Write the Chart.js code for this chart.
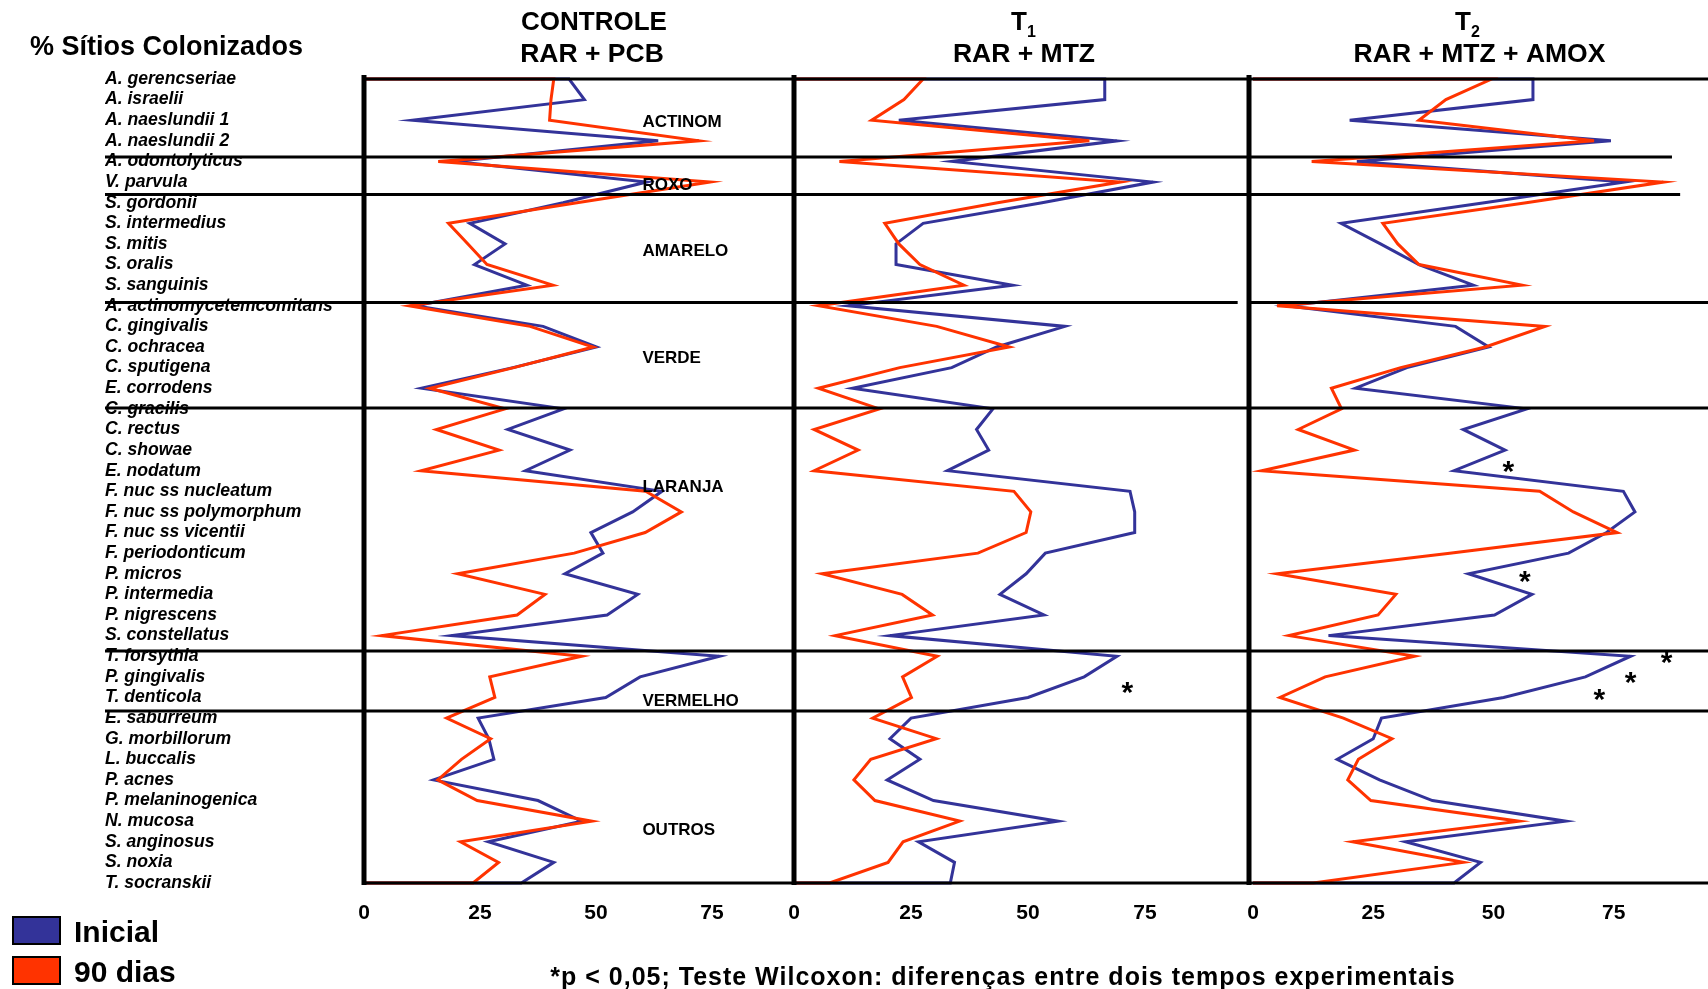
<!DOCTYPE html>
<html lang="pt">
<head>
<meta charset="utf-8">
<title>% Sítios Colonizados</title>
<script src="https://cdn.jsdelivr.net/npm/chart.js@4/dist/chart.umd.min.js"></script>
<style>
  html, body { margin: 0; padding: 0; background: #ffffff; }
  #wrap { position: relative; width: 1708px; height: 989px; overflow: hidden; }
  #wrap canvas { position: absolute; left: 0; top: 0; }
</style>
</head>
<body>
<div id="wrap">
  <canvas id="cControle" width="1708" height="989"></canvas>
  <canvas id="cT1" width="1708" height="989"></canvas>
  <canvas id="cT2" width="1708" height="989"></canvas>
</div>
<script>
// ---- data -----------------------------------------------------------------
const species = [
  'A. gerencseriae', 'A. israelii', 'A. naeslundii 1', 'A. naeslundii 2',
  'A. odontolyticus', 'V. parvula',
  'S. gordonii', 'S. intermedius', 'S. mitis', 'S. oralis', 'S. sanguinis',
  'A. actinomycetemcomitans', 'C. gingivalis', 'C. ochracea', 'C. sputigena', 'E. corrodens',
  'C. gracilis', 'C. rectus', 'C. showae', 'E. nodatum', 'F. nuc ss nucleatum',
  'F. nuc ss polymorphum', 'F. nuc ss vicentii', 'F. periodonticum', 'P. micros',
  'P. intermedia', 'P. nigrescens', 'S. constellatus',
  'T. forsythia', 'P. gingivalis', 'T. denticola',
  'E. saburreum', 'G. morbillorum', 'L. buccalis', 'P. acnes', 'P. melaninogenica',
  'N. mucosa', 'S. anginosus', 'S. noxia', 'T. socranskii'
];

// % of colonized sites per species, baseline ("Inicial") and after 90 days
const controleInicial = [44.2, 47.5, 10.4, 63.4, 19.5, 60.9, 42.9, 22.8, 30.4, 23.8,
  35.1, 11, 38.6, 50.1, 32.1, 12.4, 43, 31, 44.4, 34.8,
  64.2, 57.9, 48.9, 51.5, 43.3, 59, 52.4, 18.9, 76.6, 59.5,
  52.1, 24.6, 26.9, 28, 15, 37.5, 46.9, 26.8, 40.9, 33.9];
const controle90 = [40.9, 40.3, 40.0, 72.2, 16.0, 74.6, 45.9, 18.2, 22.4, 26.5,
  40.7, 9.8, 35.8, 49.4, 32.3, 14.2, 30.4, 15.6, 29.1, 12.3,
  60.7, 68.4, 60.6, 45.3, 20.2, 39, 33, 3.8, 46.9, 27.1,
  28.2, 17.8, 27.3, 21, 15.9, 24.4, 49.1, 20.8, 29, 23.5];

const t1Inicial = [66.4, 66.4, 22.4, 69, 33.8, 76.7, 53, 27.6, 21.8, 21.8,
  46.7, 11.6, 57.9, 43.3, 33.7, 12.5, 42.5, 39, 41.6, 32.8,
  71.8, 72.8, 72.8, 53.7, 49.6, 44, 53.4, 20.5, 69, 62,
  50, 25, 20.5, 26.9, 19.9, 29.8, 56.4, 26.6, 34.3, 33.4];
const t190 = [27.6, 23.5, 16.6, 63.1, 9.7, 69.7, 43.5, 19.4, 22.4, 26.9,
  36.3, 5.2, 30.5, 46, 22.6, 5.2, 18.2, 4.3, 13.7, 4.3,
  47, 50.6, 49.6, 39.3, 6.0, 23.1, 29.6, 8.8, 30.6, 23.2,
  25.1, 16.8, 30.4, 16.4, 12.8, 17.3, 35.4, 23.3, 20.1, 7.6];

const t2Inicial = [58.2, 58.2, 20.1, 74.4, 21.6, 77.3, 48.1, 18.3, 26.5, 34.5,
  45.8, 7, 42.1, 49, 32, 21.3, 56.9, 43.7, 52.4, 41.8,
  77, 79.4, 73.5, 65.6, 44.8, 58, 50.2, 15.7, 78.5, 69.1,
  52.1, 26.7, 25, 17.5, 26.3, 37.3, 65, 31.7, 47.3, 41.8];
const t290 = [49.6, 40.1, 34.5, 70.9, 12.2, 85.3, 56.8, 27.0, 30.1, 34.5,
  55.9, 5.0, 60.7, 48.3, 30.7, 16.3, 18.4, 9.4, 21.1, 1.8,
  59.6, 66.6, 75.7, 40.9, 5.0, 29.7, 26, 7.5, 33.6, 15.0,
  5.6, 18.8, 28.9, 21.9, 19.7, 24.5, 55.3, 20.7, 43.7, 12.5];

const xTicks = [0, 25, 50, 75];

// microbial complexes: names, label rows and the rules drawn between them
const complexes = ['ACTINOM', 'ROXO', 'AMARELO', 'VERDE', 'LARANJA', 'VERMELHO', 'OUTROS'];
const complexLabelRows = [2.02, 5.1, 8.3, 13.47, 19.73, 30.13, 36.38];
const complexBreaks = [3.78, 5.6, 10.84, 15.96, 27.75, 30.66];

// significant differences (Wilcoxon, p < 0.05): value / row where each mark sits
const starsT1 = [{ x: 71.2, y: 29.44 }];
const starsT2 = [{ x: 53.1, y: 18.72 }, { x: 56.5, y: 24.06 }, { x: 86, y: 27.97 },
                 { x: 78.5, y: 28.98 }, { x: 72, y: 29.78 }];

// ---- styling --------------------------------------------------------------
const FONT = "'Liberation Sans', Arial, Helvetica, sans-serif";
const BLUE = '#333399';
const RED = '#FF3300';
const INK = '#000000';
Chart.defaults.font.family = FONT;
Chart.defaults.color = INK;

// Each profile is drawn as the outline of its area, starting and ending on the zero line
function outline(values) {
  const pts = values.map((v, i) => ({ x: v, y: i }));
  return [{ x: 0, y: 0 }, ...pts, { x: 0, y: values.length - 1 }];
}

function setFont(ctx, size, italic) {
  ctx.font = (italic ? 'italic ' : '') + 'bold ' + size + 'px ' + FONT;
}

function drawText(ctx, str, x, y, size, align) {
  setFont(ctx, size, false);
  ctx.textAlign = align;
  ctx.textBaseline = 'alphabetic';
  ctx.fillStyle = INK;
  ctx.fillText(str, x, y);
}

// Panel frame: zero axis, top/bottom rules and complex separators
const framePlugin = {
  id: 'frame',
  afterDatasetsDraw(chart, args, opts) {
    const { ctx, chartArea: a, scales: { x, y } } = chart;
    const axisX = a.left + (opts.axisShift || 0);
    ctx.save();
    ctx.strokeStyle = INK;
    ctx.lineCap = 'butt';
    ctx.lineWidth = 3;
    const hline = (py, x0, x1) => {
      ctx.beginPath(); ctx.moveTo(x0, py); ctx.lineTo(x1, py); ctx.stroke();
    };
    hline(a.top, axisX, a.right);
    hline(a.bottom, axisX, a.right);
    complexBreaks.forEach((b, i) => {
      const x0 = opts.ruleStart != null ? opts.ruleStart : axisX;
      const ends = opts.ruleEnds || {};
      const x1 = ends[i] != null ? x.getPixelForValue(ends[i]) : a.right;
      hline(y.getPixelForValue(b), x0, x1);
    });
    ctx.lineWidth = 5;
    ctx.beginPath();
    ctx.moveTo(axisX, a.top - 4);
    ctx.lineTo(axisX, a.bottom + 2);
    ctx.stroke();
    ctx.restore();
  }
};

// Headings, complex names, significance marks, legend and footnote
const notesPlugin = {
  id: 'notes',
  afterDraw(chart, args, o) {
    const { ctx, scales: { x, y } } = chart;
    ctx.save();
    if (o.heading) {
      const h = o.heading;
      if (h.sub) {
        setFont(ctx, 26, false);
        const wMain = ctx.measureText(h.main).width;
        setFont(ctx, 16, false);
        const wSub = ctx.measureText(h.sub).width;
        const left = h.x1 - (wMain + wSub) / 2;
        drawText(ctx, h.main, left, 30, 26, 'left');
        drawText(ctx, h.sub, left + wMain, 37, 16, 'left');
      } else {
        drawText(ctx, h.main, h.x1, 30, 26, 'center');
      }
      drawText(ctx, h.line2, h.x2, 62, 26.5, 'center');
    }
    if (o.caption) {
      drawText(ctx, o.caption, 30, 55, 27, 'left');
    }
    if (o.complexX != null) {
      complexes.forEach((name, i) => {
        drawText(ctx, name, x.getPixelForValue(o.complexX), y.getPixelForValue(complexLabelRows[i]) + 6, 17, 'left');
      });
    }
    (o.stars || []).forEach(s => {
      drawText(ctx, '*', x.getPixelForValue(s.x), y.getPixelForValue(s.y) + 16, 30, 'center');
    });
    if (o.legend) {
      const sets = chart.data.datasets;
      sets.forEach((ds, i) => {
        const top = 917 + i * 40;
        ctx.fillStyle = ds.borderColor;
        ctx.fillRect(13, top, 47, 27);
        ctx.strokeStyle = INK;
        ctx.lineWidth = 2;
        ctx.strokeRect(13, top, 47, 27);
        drawText(ctx, ds.label, 74, top + 25, 30, 'left');
      });
    }
    if (o.footnote) {
      setFont(ctx, 25, false);
      if ('letterSpacing' in ctx) ctx.letterSpacing = '1px';
      ctx.textAlign = 'center';
      ctx.textBaseline = 'alphabetic';
      ctx.fillStyle = INK;
      ctx.fillText(o.footnote, 1003, 985);
      if ('letterSpacing' in ctx) ctx.letterSpacing = '0px';
    }
    ctx.restore();
  }
};

function makePanel(canvasId, inicial, dias90, cfg) {
  const showNames = !!cfg.showNames;
  return new Chart(document.getElementById(canvasId), {
    type: 'scatter',
    data: {
      datasets: [
        { label: 'Inicial', data: outline(inicial), borderColor: BLUE, backgroundColor: BLUE, order: 1 },
        { label: '90 dias', data: outline(dias90), borderColor: RED, backgroundColor: RED, order: 0 }
      ].map(ds => Object.assign(ds, {
        showLine: true, borderWidth: 3, pointRadius: 0, pointHoverRadius: 0,
        tension: 0, fill: false, borderJoinStyle: 'miter', clip: 8
      }))
    },
    options: {
      responsive: false,
      animation: false,
      devicePixelRatio: 1,
      events: [],
      layout: { padding: { left: cfg.padLeft, right: cfg.padRight, top: 79, bottom: 62 } },
      scales: {
        x: {
          type: 'linear', min: 0, max: cfg.xMax,
          grid: { display: false }, border: { display: false },
          afterBuildTicks: s => { s.ticks = xTicks.map(v => ({ value: v })); },
          afterFit: s => { s.height = 44; s.paddingLeft = 0; s.paddingRight = 0; },
          ticks: { padding: 10, autoSkip: false, maxRotation: 0, color: INK,
                   font: { size: 21, weight: 'bold' } }
        },
        y: {
          type: 'linear', reverse: true, min: 0, max: species.length - 1,
          display: showNames,
          grid: { display: false }, border: { display: false },
          afterBuildTicks: s => { s.ticks = species.map((_, i) => ({ value: i })); },
          afterFit: s => {
            if (s.options.display) s.width = 259;
            s.paddingTop = 0; s.paddingBottom = 0;
          },
          ticks: {
            autoSkip: false, crossAlign: 'far', color: INK,
            font: { size: 17.6, weight: 'bold', style: 'italic' },
            callback: v => species[v]
          }
        }
      },
      plugins: {
        legend: { display: false },
        tooltip: { enabled: false },
        frame: cfg.frame,
        notes: cfg.notes
      }
    },
    plugins: [framePlugin, notesPlugin]
  });
}

makePanel('cControle', controleInicial, controle90, {
  showNames: true, padLeft: 105, padRight: 915, xMax: 92.46,
  frame: { ruleStart: 105 },
  notes: {
    heading: { main: 'CONTROLE', line2: 'RAR + PCB', x1: 594, x2: 592 },
    caption: '% Sítios Colonizados',
    complexX: 60,
    legend: true
  }
});

makePanel('cT1', t1Inicial, t190, {
  padLeft: 794, padRight: 457, xMax: 97.65,
  frame: { ruleEnds: { 2: 94.8 } },
  notes: {
    heading: { main: 'T', sub: '1', line2: 'RAR + MTZ', x1: 1023.5, x2: 1024 },
    stars: starsT1
  }
});

makePanel('cT2', t2Inicial, t290, {
  padLeft: 1253, padRight: 0, xMax: 94.59,
  frame: { axisShift: -4, ruleEnds: { 0: 87.1, 1: 88.8 } },
  notes: {
    heading: { main: 'T', sub: '2', line2: 'RAR + MTZ + AMOX', x1: 1467.5, x2: 1479.5 },
    stars: starsT2,
    footnote: '*p < 0,05; Teste Wilcoxon: diferenças entre dois tempos experimentais'
  }
});
</script>
</body>
</html>
